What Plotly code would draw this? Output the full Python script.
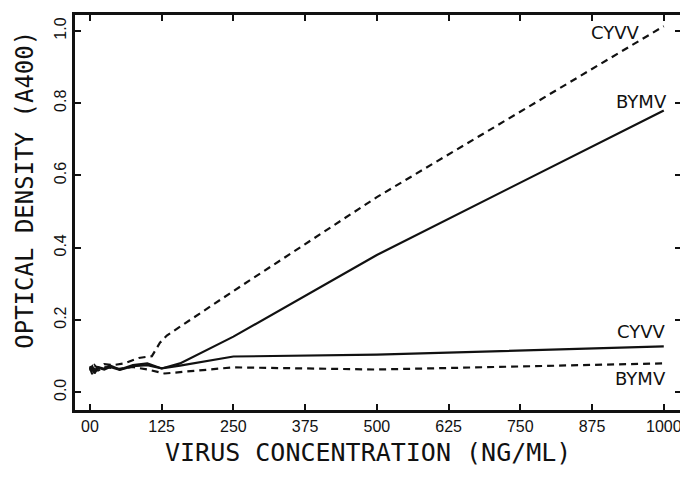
import plotly.graph_objects as go

# Data
cyvv_dash_x = [0, 4, 8, 14, 25, 40, 60, 85, 108, 122, 134, 250, 500, 1000]
cyvv_dash_y = [0.072, 0.058, 0.075, 0.066, 0.078, 0.075, 0.08, 0.095, 0.10, 0.137, 0.157, 0.28, 0.54, 1.013]

bymv_solid_x = [0, 4, 8, 14, 25, 35, 52, 75, 100, 125, 157, 250, 500, 1000]
bymv_solid_y = [0.065, 0.072, 0.055, 0.07, 0.065, 0.074, 0.063, 0.075, 0.08, 0.066, 0.08, 0.154, 0.38, 0.78]

cyvv_solid_x = [0, 4, 8, 14, 25, 35, 52, 75, 100, 125, 157, 250, 500, 1000]
cyvv_solid_y = [0.06, 0.07, 0.052, 0.068, 0.063, 0.07, 0.062, 0.072, 0.075, 0.066, 0.074, 0.099, 0.104, 0.127]

bymv_dash_x = [0, 4, 8, 14, 25, 50, 75, 100, 130, 250, 500, 1000]
bymv_dash_y = [0.068, 0.05, 0.065, 0.06, 0.07, 0.065, 0.07, 0.063, 0.052, 0.069, 0.063, 0.08]

x_ticks = [0, 125, 250, 375, 500, 625, 750, 875, 1000]
x_tick_labels = ["00", "125", "250", "375", "500", "625", "750", "875", "1000"]
y_ticks = [0.0, 0.2, 0.4, 0.6, 0.8, 1.0]
y_tick_labels = ["0.0", "0.2", "0.4", "0.6", "0.8", "1.0"]

line_labels = [
    ("CYVV", 1000, 1.013, -48, -6),
    ("BYMV", 1000, 0.78, -22, 9),
    ("CYVV", 1000, 0.127, -22, 15),
    ("BYMV", 1000, 0.08, -23, -15),
]

DASH = "7px,5px"
BLACK = "#111111"

fig = go.Figure()
fig.add_trace(go.Scatter(x=cyvv_dash_x, y=cyvv_dash_y, mode="lines",
                         line=dict(color=BLACK, width=2.2, dash=DASH)))
fig.add_trace(go.Scatter(x=bymv_solid_x, y=bymv_solid_y, mode="lines",
                         line=dict(color=BLACK, width=2.2)))
fig.add_trace(go.Scatter(x=cyvv_solid_x, y=cyvv_solid_y, mode="lines",
                         line=dict(color=BLACK, width=2.2)))
fig.add_trace(go.Scatter(x=bymv_dash_x, y=bymv_dash_y, mode="lines",
                         line=dict(color=BLACK, width=2.2, dash=DASH)))

for text, x, y, ax, ay in line_labels:
    fig.add_annotation(x=x, y=y, text=text, showarrow=False, xshift=ax, yshift=ay,
                       xanchor="center", yanchor="middle",
                       font=dict(family="DejaVu Sans", size=18, color=BLACK))

tick_font = dict(family="Liberation Sans Narrow, Liberation Sans, Arial", size=16, color=BLACK)

fig.update_xaxes(range=[-26, 1030], tickvals=x_ticks, ticktext=x_tick_labels,
                 ticks="inside", ticklen=6, tickwidth=2, tickcolor=BLACK,
                 showline=True, linewidth=3, linecolor=BLACK, mirror="ticks",
                 showgrid=False, zeroline=False, tickfont=tick_font)
fig.update_yaxes(range=[-0.049, 1.044], tickvals=y_ticks, ticktext=y_tick_labels,
                 ticks="inside", ticklen=6, tickwidth=2, tickcolor=BLACK,
                 showline=True, linewidth=3, linecolor=BLACK, mirror="ticks",
                 showgrid=False, zeroline=False, tickfont=tick_font, tickangle=-90)

fig.add_annotation(text="VIRUS CONCENTRATION (NG/ML)", xref="paper", yref="paper",
                   x=0.483, y=-0.108, xanchor="center", yanchor="middle", showarrow=False,
                   borderpad=0,
                   font=dict(family="DejaVu Sans Mono", size=25, color=BLACK))
fig.add_annotation(text="OPTICAL DENSITY (A400)", xref="paper", yref="paper",
                   x=-0.084, y=0.558, xanchor="center", yanchor="middle", showarrow=False,
                   textangle=-90, borderpad=0,
                   font=dict(family="DejaVu Sans Mono", size=24, color=BLACK))

# page body has an 8px default margin, so the figure is 8px smaller
fig.update_layout(width=680, height=474, showlegend=False,
                  paper_bgcolor="white", plot_bgcolor="white",
                  margin=dict(l=67, r=6, t=4, b=72))

fig.write_html("out.html")
